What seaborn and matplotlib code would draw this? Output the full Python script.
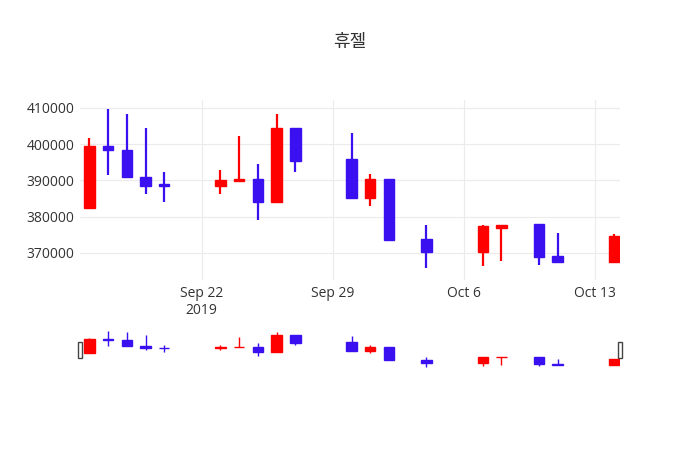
import matplotlib
matplotlib.use("Agg")
import matplotlib.pyplot as plt
import matplotlib.dates as mdates
import seaborn as sns
import pandas as pd
import numpy as np

dates = ["2019-09-16","2019-09-17","2019-09-18","2019-09-19","2019-09-20",
         "2019-09-23","2019-09-24","2019-09-25","2019-09-26","2019-09-27",
         "2019-09-30","2019-10-01","2019-10-02","2019-10-04","2019-10-07",
         "2019-10-08","2019-10-10","2019-10-11","2019-10-14"]
opens  = [382500,399500,398500,391000,389000,388500,389800,390300,384000,404500,
          395800,385300,390300,373900,370300,377000,377900,369200,367500]
highs  = [401700,409700,408300,404500,392300,393000,402300,394500,408300,404500,
          403000,391900,390300,377700,377700,377700,377900,375500,375200]
lows   = [382000,391500,391000,386300,384000,386200,389800,379200,384000,392300,
          385000,383000,373600,365800,366300,367700,366700,367500,367500]
closes = [399500,398500,391000,388500,388500,390200,390300,384000,404500,395400,
          385300,390300,373600,370300,377400,377700,368900,367500,374700]
title = "휴젤"
xtick_dates = ["2019-09-22","2019-09-29","2019-10-06","2019-10-13"]
xtick_labels = ["Sep 22\n2019","Sep 29","Oct 6","Oct 13"]
ytick_vals = [370000,380000,390000,400000,410000]

df = pd.DataFrame({"date": pd.to_datetime(dates), "open": opens, "high": highs,
                   "low": lows, "close": closes})
df["x"] = mdates.date2num(df["date"])
UP, DOWN = "#FF0000", "#3A10F0"
df["color"] = np.where(df["close"] >= df["open"], UP, DOWN)

sns.set_theme(style="white")
plt.rcParams['font.family'] = ['Open Sans', 'Noto Sans CJK KR', 'DejaVu Sans']

fig = plt.figure(figsize=(7, 4.5), dpi=100)
ax = fig.add_axes([80/700, 170/450, 540/700, 180/450])
axs = fig.add_axes([80/700, 82/450, 540/700, 38/450])

def draw(a, wick_lw):
    for _, r in df.iterrows():
        a.vlines(r["x"], r["low"], r["high"], color=r["color"], lw=wick_lw, zorder=3)
        lo, hi = min(r["open"], r["close"]), max(r["open"], r["close"])
        a.bar(r["x"], max(hi - lo, 300), bottom=lo, width=0.55, color=r["color"],
              edgecolor=r["color"], lw=1, zorder=3)

draw(ax, 1.6)
draw(axs, 1.0)
xmin = mdates.date2num(pd.Timestamp("2019-09-15 12:00"))
xmax = mdates.date2num(pd.Timestamp("2019-10-14 08:00"))
for a in (ax, axs):
    a.set_xlim(xmin, xmax)
ax.set_ylim(362550, 412200)
axs.set_ylim(364000, 411000)

ax.set_xticks(mdates.date2num(pd.to_datetime(xtick_dates)))
ax.set_xticklabels(xtick_labels, fontsize=10, color="#333333")
ax.set_yticks(ytick_vals)
ax.set_yticklabels([str(v) for v in ytick_vals], fontsize=10, color="#333333")
ax.grid(True, color="#EBEBEB", lw=0.8)
ax.set_axisbelow(True)
for s in ax.spines.values():
    s.set_visible(False)
ax.tick_params(length=0, pad=4)

axs.set_xticks([]); axs.set_yticks([])
for s in axs.spines.values():
    s.set_visible(False)
# slider handles
for xx in (xmin, xmax):
    axs.add_patch(plt.Rectangle((xx - 0.1, 376000), 0.2, 20000, facecolor="white",
                                edgecolor="#444444", lw=1, clip_on=False, zorder=5))

fig.text(0.5, 1 - 42/450, title, ha="center", va="center", fontsize=13,
         color="#333333", family=['Noto Sans CJK KR', 'DejaVu Sans'])
fig.savefig("out.png", dpi=100)
